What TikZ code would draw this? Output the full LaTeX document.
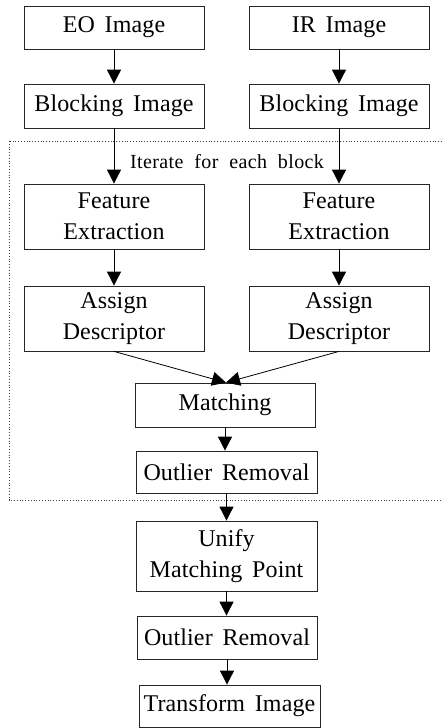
\documentclass[tikz,border=0pt]{standalone}
\usepackage{fontspec}
\setmainfont[LetterSpace=0.5,WordSpace=1.6]{Liberation Serif}
\newfontfamily\itfont[LetterSpace=2,WordSpace=2]{Liberation Serif}
\usetikzlibrary{arrows.meta}
\tikzset{
  box/.style={draw=black!85, line width=0.8pt, minimum width=180pt, align=center, inner sep=0pt,
    font=\fontsize{24}{31}\selectfont},
  onel/.style={box, minimum height=43pt},
  twol/.style={box, minimum height=65pt},
  arr/.style={line width=0.8pt, -{Triangle[width=14pt,length=14pt]}},
}
\begin{document}
\begin{tikzpicture}[x=1pt,y=-1pt]
\useasboundingbox (0,0) rectangle (442,728);
\clip (0,0) rectangle (442,728);
\draw[line width=0.8pt, dotted, black!75] (9,141) rectangle (460,500);
\node[font=\itfont\fontsize{20}{22}\selectfont] (it) at (227,162) {Iterate for each block};
\node[onel] (eo) at (114,27.5) {EO Image};
\node[onel] (ir) at (339,27.5) {IR Image};
\node[onel, minimum height=44pt] (b1) at (114,106) {Blocking Image};
\node[onel, minimum height=44pt] (b2) at (339,106) {Blocking Image};
\node[twol] (f1) at (114,216.5) {Feature\\Extraction};
\node[twol] (f2) at (339,216.5) {Feature\\Extraction};
\node[twol] (a1) at (114,318.5) {Assign\\Descriptor};
\node[twol] (a2) at (339,318.5) {Assign\\Descriptor};
\node[onel, minimum height=44pt] (m) at (225,405) {Matching};
\node[onel, minimum width=181pt, minimum height=42pt] (o1) at (226.5,472) {Outlier Removal};
\node[box, minimum width=181pt, minimum height=70pt] (u) at (226.5,556) {Unify\\Matching Point};
\node[onel] (o2) at (227,637.5) {Outlier Removal};
\node[onel, minimum width=181pt, minimum height=42pt] (t) at (229.5,706) {Transform Image};
\draw[arr] (eo) -- (b1);
\draw[arr] (ir) -- (b2);
\draw[arr] (b1) -- (f1);
\draw[arr] (b2) -- (f2);
\draw[arr] (f1) -- (a1);
\draw[arr] (f2) -- (a2);
\draw[arr] (a1.south) -- ([xshift=1pt]m.north);
\draw[arr] (a2.south) -- ([xshift=1pt]m.north);
\draw[arr] (m.south) -- (m.south |- o1.north);
\draw[arr] (o1) -- (u);
\draw[arr] (u.south) -- (u.south |- o2.north);
\draw[arr] (o2.south) -- (o2.south |- t.north);
\end{tikzpicture}
\end{document}
